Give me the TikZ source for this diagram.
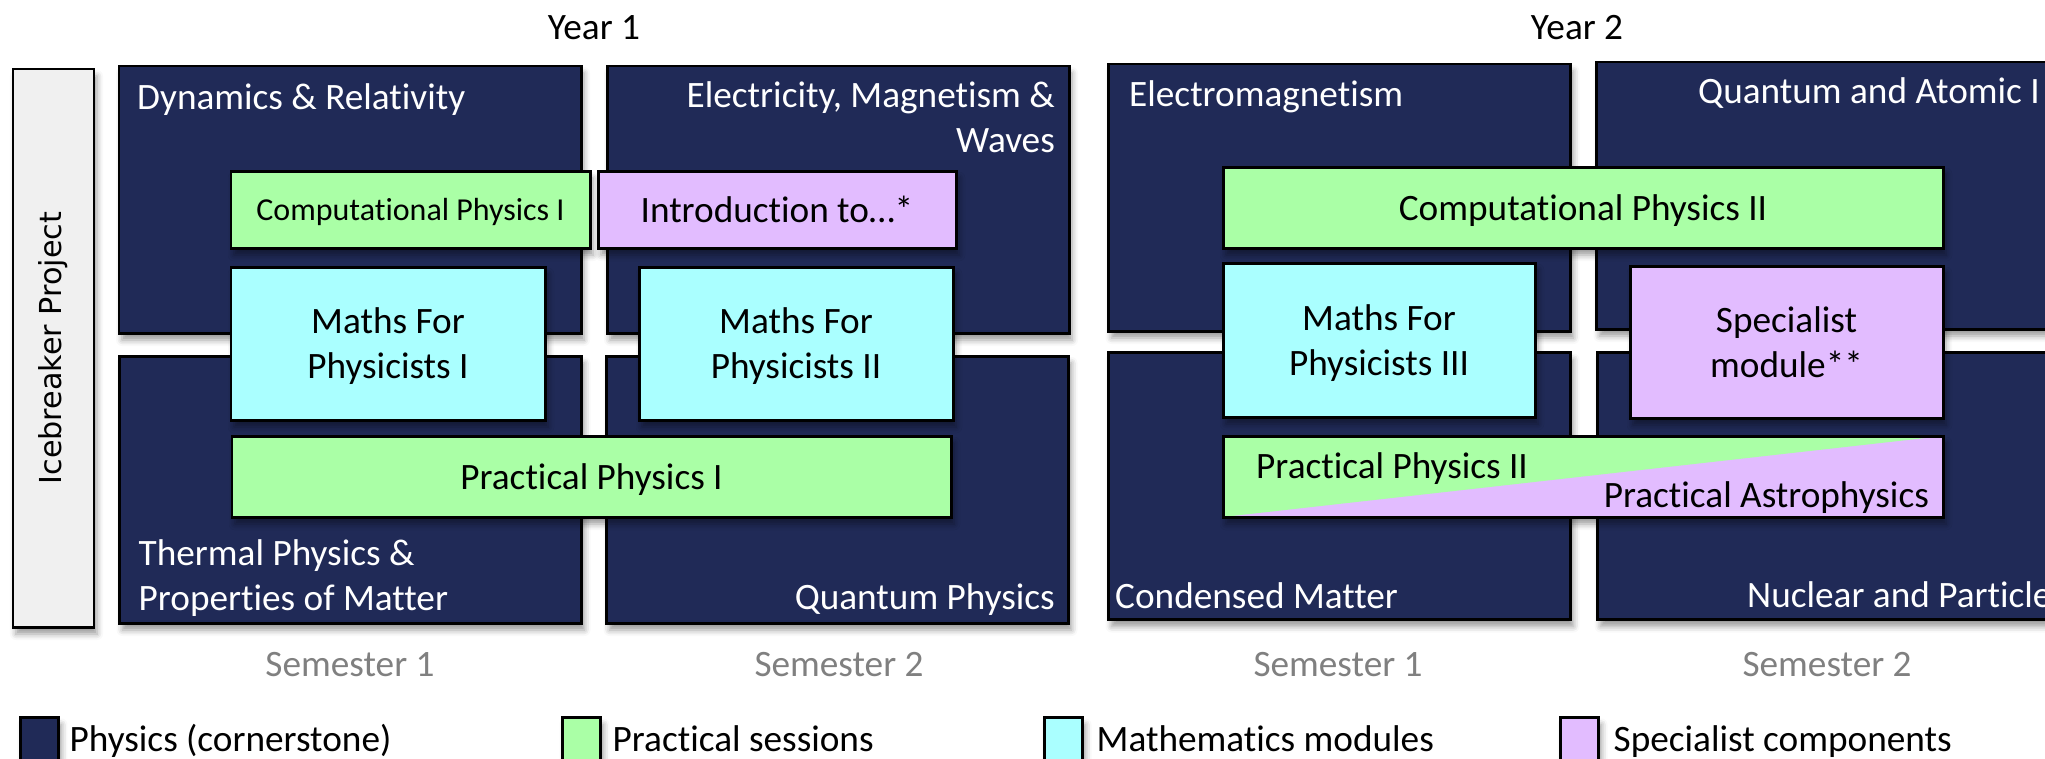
\documentclass[tikz,border=0pt]{standalone}
\usepackage{fontspec}
\setmainfont{Carlito}[Ligatures=NoCommon]
\newfontfamily\icefont{DejaVu Sans}
\usetikzlibrary{shadows.blur}

\definecolor{corenavy}{RGB}{32,42,87}
\definecolor{pracgreen}{RGB}{170,255,166}
\definecolor{mathcyan}{RGB}{170,255,255}
\definecolor{speclilac}{RGB}{226,188,255}
\definecolor{icegray}{RGB}{240,240,240}
\definecolor{semgray}{RGB}{128,128,128}

\begin{document}
\begin{tikzpicture}[
  font=\fontsize{10.6}{12.8}\selectfont,
  box/.style={draw=black,line width=0.85pt,inner sep=0pt,
    blur shadow={shadow xshift=0.03cm,shadow yshift=-0.07cm,shadow blur radius=0.06cm}},
  core/.style={box,fill=corenavy,minimum width=4.62cm,minimum height=2.67cm},
  ctitle/.style={text=white,inner sep=0pt},
  module/.style={box,align=center,text depth=0pt},
  keybox/.style={box,minimum width=0.38cm,minimum height=0.6cm,anchor=north west},
  keytext/.style={anchor=base west,inner sep=0pt}]
\useasboundingbox (0,0) rectangle (20.45,7.58);
\clip (0,0) rectangle (20.45,7.58);

% years
\node (y1) at (5.94,7.30) {Year 1};
\node (y2) at (15.77,7.30) {Year 2};

% icebreaker
\node[box,fill=icegray,minimum width=0.81cm,minimum height=5.58cm] (ice) at (0.535,4.10) {};
\node[rotate=90,font=\icefont\fontsize{8.6}{10}\selectfont] (icet) at (ice) {Icebreaker Project};

% cornerstone blocks
\node[core] (dyn) at (3.50,5.585) {};
\node[core] (emw) at (8.38,5.585) {};
\node[core] (thm) at (3.505,2.685) {};
\node[core] (qph) at (8.375,2.685) {};
\node[core] (elm) at (13.395,5.605) {};
\node[core] (qat) at (18.275,5.625) {};
\node[core] (cnd) at (13.395,2.72) {};
\node[core] (nuc) at (18.285,2.72) {};

\node[ctitle,anchor=west] (dynt) at ([xshift=0.19cm,yshift=-0.35cm]dyn.north west) {Dynamics \& Relativity};
\node[ctitle,anchor=east,align=right] (emwt) at ([xshift=-0.15cm,yshift=-0.525cm]emw.north east) {Electricity, Magnetism \&\\Waves};
\node[ctitle,anchor=west,align=left] (thmt) at ([xshift=0.20cm,yshift=0.46cm]thm.south west) {Thermal Physics \&\\Properties of Matter};
\node[ctitle,anchor=east] (qpht) at ([xshift=-0.145cm,yshift=0.25cm]qph.south east) {Quantum Physics};
\node[ctitle,anchor=west] (elmt) at ([xshift=0.215cm,yshift=-0.34cm]elm.north west) {Electromagnetism};
\node[ctitle,anchor=west] (qatt) at ([xshift=1.025cm,yshift=-0.33cm]qat.north west) {Quantum and Atomic I};
\node[ctitle,anchor=west] (cndt) at ([xshift=0.075cm,yshift=0.25cm]cnd.south west) {Condensed Matter};
\node[ctitle,anchor=west] (nuct) at ([xshift=1.505cm,yshift=0.26cm]nuc.south west) {Nuclear and Particle};

% year 1 modules
\node[module,fill=pracgreen,minimum width=3.59cm,minimum height=0.77cm,font=\fontsize{9.1}{11}\selectfont] (cp1) at (4.105,5.485) {Computational Physics I};
\node[module,fill=speclilac,minimum width=3.58cm,minimum height=0.77cm] (intro) at (7.77,5.485) {Introduction to…*};
\node[module,fill=mathcyan,minimum width=3.14cm,minimum height=1.53cm] (m1) at (3.88,4.145) {Maths For\\Physicists I};
\node[module,fill=mathcyan,minimum width=3.14cm,minimum height=1.53cm] (m2) at (7.96,4.145) {Maths For\\Physicists II};
\node[module,fill=pracgreen,minimum width=7.19cm,minimum height=0.81cm] (pp1) at (5.915,2.815) {Practical Physics I};

% year 2 modules
\node[module,fill=pracgreen,minimum width=7.20cm,minimum height=0.81cm] (cp2) at (15.83,5.505) {Computational Physics II};
\node[module,fill=mathcyan,minimum width=3.12cm,minimum height=1.54cm] (m3) at (13.79,4.18) {Maths For\\Physicists III};
\node[module,fill=speclilac,minimum width=3.13cm,minimum height=1.52cm] (spec) at (17.865,4.16) {Specialist\\module**};
\node[module,fill=speclilac,minimum width=7.20cm,minimum height=0.81cm,
  path picture={\fill[pracgreen] (path picture bounding box.south west) -- (path picture bounding box.north east) -- (path picture bounding box.north west) -- cycle;}] (pp2) at (15.83,2.815) {};
\node[anchor=west,inner sep=0pt] (pp2a) at ([xshift=0.34cm,yshift=0.075cm]pp2.west) {Practical Physics II};
\node[anchor=east,inner sep=0pt] (pp2b) at ([xshift=-0.15cm,yshift=-0.215cm]pp2.east) {Practical Astrophysics};

% semesters
\node[text=semgray] (s11) at (3.50,0.93) {Semester 1};
\node[text=semgray] (s12) at (8.39,0.93) {Semester 2};
\node[text=semgray] (s21) at (13.38,0.93) {Semester 1};
\node[text=semgray] (s22) at (18.27,0.93) {Semester 2};

% key
\node[keybox,fill=corenavy] (kcore) at (0.19,0.42) {};
\node[keytext] (kcoret) at (0.69,0.07) {Physics (cornerstone)};
\node[keybox,fill=pracgreen] (kprac) at (5.61,0.42) {};
\node[keytext] (kpract) at (6.12,0.07) {Practical sessions};
\node[keybox,fill=mathcyan] (kmath) at (10.43,0.42) {};
\node[keytext] (kmatht) at (10.96,0.07) {Mathematics modules};
\node[keybox,fill=speclilac] (kspec) at (15.59,0.42) {};
\node[keytext] (kspect) at (16.13,0.07) {Specialist components};
\end{tikzpicture}
\end{document}
